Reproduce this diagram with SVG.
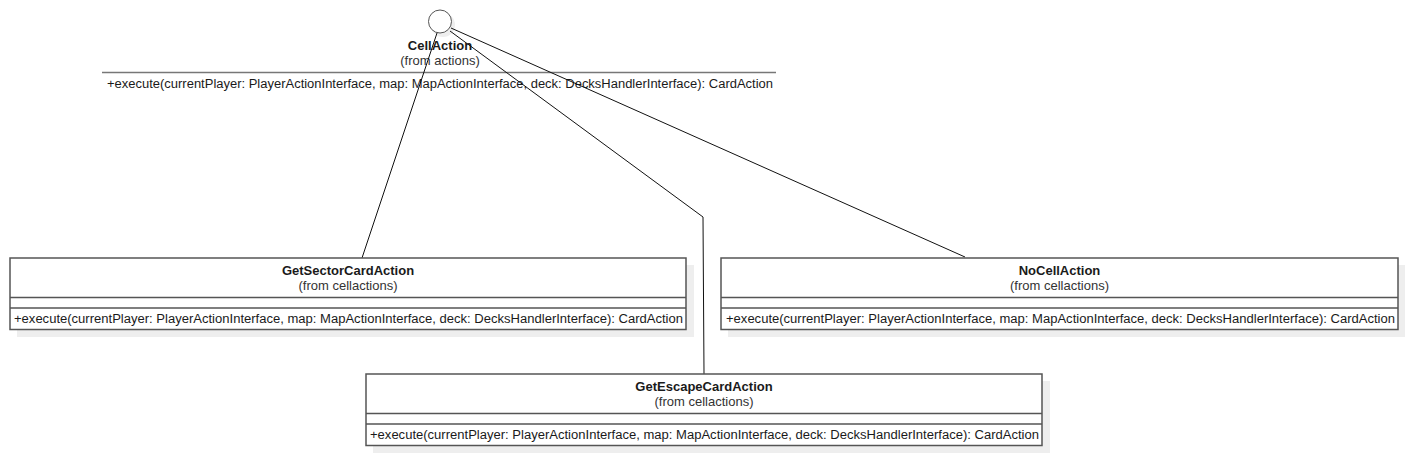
<svg xmlns="http://www.w3.org/2000/svg" width="1408" height="456" viewBox="0 0 1408 456">
  <style>
    .box { fill: #ffffff; stroke: #555555; stroke-width: 1.5; }
    .shadow { fill: #eeeeee; stroke: none; }
    .sep { stroke: #555555; stroke-width: 1.5; fill: none; }
    .name { font-family: "Liberation Sans", Arial, sans-serif; font-size: 13px; font-weight: bold; fill: #1a1a1a; text-anchor: middle; }
    .from { font-family: "Liberation Sans", Arial, sans-serif; font-size: 13px; fill: #333333; text-anchor: middle; }
    .op { font-family: "Liberation Sans", Arial, sans-serif; font-size: 12px; fill: #1a1a1a; }
    .conn { stroke: #111111; stroke-width: 1; fill: none; }
  </style>
  <rect x="0" y="0" width="1408" height="456" fill="#ffffff"/>

  <g id="CellAction">
    <circle cx="443" cy="25" r="12" fill="#eeeeee"/>
    <circle cx="440" cy="21.5" r="11.5" fill="#ffffff" stroke="#555555" stroke-width="1"/>
    <text class="name" x="440" y="50">CellAction</text>
    <text class="from" x="440" y="65">(from actions)</text>
    <line x1="102" y1="72.5" x2="776" y2="72.5" stroke="#777777" stroke-width="1.5"/>
    <text class="op" x="107" y="88" textLength="666" lengthAdjust="spacingAndGlyphs">+execute(currentPlayer: PlayerActionInterface, map: MapActionInterface, deck: DecksHandlerInterface): CardAction</text>
  </g>

  <g id="connectors">
    <polyline class="conn" points="437,33 362,258"/>
    <polyline class="conn" points="450,31 703,217 704,374"/>
    <polyline class="conn" points="451,28 965,257"/>
  </g>

  <g id="GetSectorCardAction">
    <rect class="shadow" x="17" y="265" width="677" height="72"/>
    <rect class="box" x="10" y="258" width="676" height="71.5"/>
    <line class="sep" x1="10" y1="297.5" x2="686" y2="297.5"/>
    <line class="sep" x1="10" y1="308" x2="686" y2="308"/>
    <text class="name" x="348" y="275">GetSectorCardAction</text>
    <text class="from" x="348" y="290">(from cellactions)</text>
    <text class="op" x="14" y="323" textLength="669" lengthAdjust="spacingAndGlyphs">+execute(currentPlayer: PlayerActionInterface, map: MapActionInterface, deck: DecksHandlerInterface): CardAction</text>
  </g>

  <g id="NoCellAction">
    <rect class="shadow" x="728" y="265" width="677" height="72"/>
    <rect class="box" x="721" y="258" width="677" height="71.5"/>
    <line class="sep" x1="721" y1="297.5" x2="1398" y2="297.5"/>
    <line class="sep" x1="721" y1="308" x2="1398" y2="308"/>
    <text class="name" x="1059.5" y="275">NoCellAction</text>
    <text class="from" x="1059.5" y="290">(from cellactions)</text>
    <text class="op" x="726" y="323" textLength="669" lengthAdjust="spacingAndGlyphs">+execute(currentPlayer: PlayerActionInterface, map: MapActionInterface, deck: DecksHandlerInterface): CardAction</text>
  </g>

  <g id="GetEscapeCardAction">
    <rect class="shadow" x="373" y="381" width="677" height="72"/>
    <rect class="box" x="366" y="374" width="676" height="71.5"/>
    <line class="sep" x1="366" y1="413.5" x2="1042" y2="413.5"/>
    <line class="sep" x1="366" y1="424" x2="1042" y2="424"/>
    <text class="name" x="704" y="391">GetEscapeCardAction</text>
    <text class="from" x="704" y="406">(from cellactions)</text>
    <text class="op" x="370" y="439" textLength="669" lengthAdjust="spacingAndGlyphs">+execute(currentPlayer: PlayerActionInterface, map: MapActionInterface, deck: DecksHandlerInterface): CardAction</text>
  </g>
</svg>
